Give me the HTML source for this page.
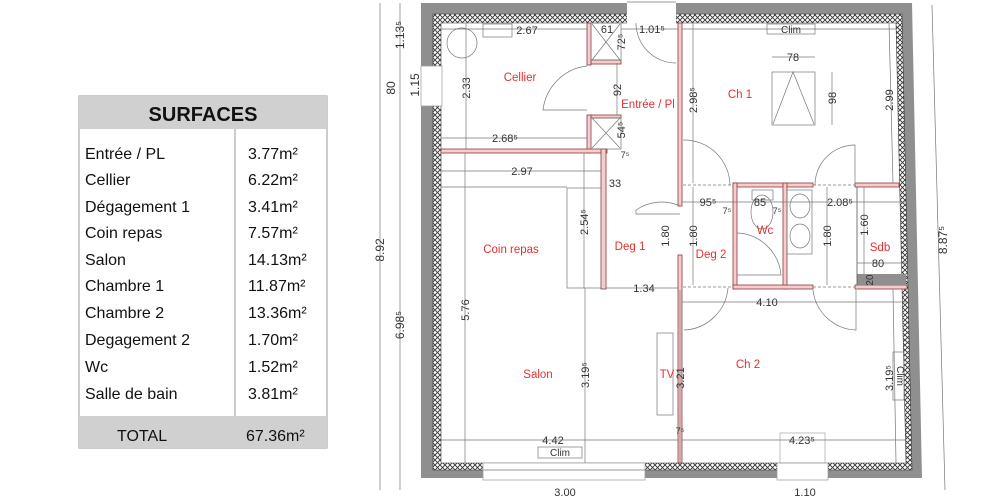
<!DOCTYPE html>
<html><head><meta charset="utf-8"><style>
html,body{margin:0;padding:0;background:#fff;width:1000px;height:500px;overflow:hidden}
svg{display:block}
.t{font-family:"Liberation Sans",sans-serif}
.d{font-family:"Liberation Sans",sans-serif;font-size:11px;fill:#333}
.r{font-family:"Liberation Sans",sans-serif;font-size:11.5px;fill:#e53030}
.w{fill:#f6cccc;stroke:#8a3a3a;stroke-width:0.8}
.l{stroke:#777;stroke-width:0.7;fill:none}
</style></head><body>
<svg width="1000" height="500" viewBox="0 0 1000 500" xmlns="http://www.w3.org/2000/svg">
<defs>
<pattern id="h" width="5" height="5" patternUnits="userSpaceOnUse">
<rect width="5" height="5" fill="#fff"/><path d="M0 0L5 5M5 0L0 5" stroke="#333" stroke-width="0.9"/>
</pattern>
</defs>
<rect x="79" y="96" width="248" height="352" fill="#fff" stroke="#999" stroke-width="1"/>
<rect x="79" y="96" width="248" height="33" fill="#d0d0d0"/>
<rect x="79" y="416" width="248" height="32" fill="#d0d0d0"/>
<line x1="235" y1="129" x2="235" y2="416" stroke="#999"/>
<text x="203" y="121" class="t" font-size="20" font-weight="bold" text-anchor="middle" fill="#111">SURFACES</text>
<g class="t" font-size="16" fill="#111">
<text x="85" y="159">Entrée / PL</text><text x="248" y="159">3.77m²</text>
<text x="85" y="185">Cellier</text><text x="248" y="185">6.22m²</text>
<text x="85" y="212">Dégagement 1</text><text x="248" y="212">3.41m²</text>
<text x="85" y="238">Coin repas</text><text x="248" y="238">7.57m²</text>
<text x="85" y="265">Salon</text><text x="248" y="265">14.13m²</text>
<text x="85" y="291">Chambre 1</text><text x="248" y="291">11.87m²</text>
<text x="85" y="318">Chambre  2</text><text x="248" y="318">13.36m²</text>
<text x="85" y="345">Degagement 2</text><text x="248" y="345">1.70m²</text>
<text x="85" y="372">Wc</text><text x="248" y="372">1.52m²</text>
<text x="85" y="399">Salle de bain</text><text x="248" y="399">3.81m²</text>
<text x="117" y="441">TOTAL</text><text x="246" y="441">67.36m²</text>
</g>
<path d="M421 3 L912 3 L922 478 L421 478 Z M433 14 L902 14 L912 470 L433 470 Z" fill="#8f8f8f" fill-rule="evenodd"/>
<path d="M433 14 L902 14 L912 470 L433 470 Z M441 23 L896 23 L906 463 L441 463 Z" fill="url(#h)" fill-rule="evenodd" stroke="#333" stroke-width="0.6"/>
<rect x="627" y="2" width="49" height="22" fill="#fff"/>
<line x1="627" y1="2" x2="676" y2="2" class="l"/>
<path d="M636 23 A40 40 0 0 0 676 63" class="l"/>
<rect x="421" y="66" width="21" height="40" fill="#fff" stroke="#999" stroke-width="0.7"/>
<rect x="483" y="463" width="162" height="17" fill="#fff" stroke="#999" stroke-width="0.7"/>
<line x1="483" y1="470" x2="645" y2="470" class="l"/>
<rect x="777" y="463" width="51" height="17" fill="#fff" stroke="#999" stroke-width="0.7"/>
<rect x="780" y="433" width="45" height="30" fill="none" stroke="#999" stroke-width="0.6"/>
<rect class="w" x="587" y="23" width="4" height="42"/>
<rect class="w" x="587" y="115" width="4" height="38"/>
<rect class="w" x="441" y="149" width="166" height="4"/>
<rect class="w" x="601" y="149" width="5" height="140"/>
<rect class="w" x="591" y="60" width="30" height="4"/>
<rect class="w" x="591" y="115" width="30" height="3"/>
<rect class="w" x="678" y="23" width="4" height="183"/>
<rect class="w" x="678" y="255" width="4" height="208"/>
<rect class="w" x="733" y="183" width="80" height="4"/>
<rect class="w" x="855" y="183" width="44" height="4"/>
<rect class="w" x="733" y="183" width="4" height="106"/>
<rect class="w" x="783" y="183" width="4" height="106"/>
<rect class="w" x="733" y="285" width="80" height="4"/>
<rect class="w" x="855" y="285" width="52" height="4"/>
<rect x="857" y="274" width="49" height="11" fill="#8f8f8f"/>
<line x1="857" y1="187" x2="857" y2="285" stroke="#555" stroke-width="0.8"/>
<g class="l"><path d="M592 24 L620 60 M620 24 L592 60 M592 118 L620 148 M620 118 L592 148"/>
<rect x="591" y="23" width="30" height="37"/>
<rect x="591" y="118" width="30" height="31"/></g>
<g class="l">
<path d="M587 66 A50 50 0 0 0 543 110 L587 110"/>
<path d="M680 206 A45 45 0 0 0 636 210 L636 214 L680 214"/>
<path d="M683 140 A46 46 0 0 1 730 185"/>
<path d="M815 185 A40 40 0 0 1 855 145 L855 185"/>
<path d="M737 233 A46 46 0 0 1 781 275 L737 275"/>
<path d="M684 330 A46 46 0 0 0 728 288"/>
<path d="M813 290 A45 45 0 0 0 856 330 L856 290"/>
<line x1="683" y1="185" x2="733" y2="185" stroke-dasharray="3 2"/>
<line x1="813" y1="185" x2="855" y2="185" stroke-dasharray="3 2"/>
<line x1="683" y1="287" x2="733" y2="287" stroke-dasharray="3 2"/>
<line x1="813" y1="287" x2="855" y2="287" stroke-dasharray="3 2"/>
</g>
<g class="l">
<circle cx="462" cy="43" r="15"/>
<rect x="483" y="24" width="29" height="13"/>
<rect x="772" y="72" width="43" height="53"/><path d="M773 124 L793 72 L814 124"/>
<rect x="567" y="188" width="34" height="100"/>
<line x1="441" y1="187" x2="567" y2="187"/>
<rect x="657" y="333" width="16" height="82"/>
<rect x="752" y="190" width="21" height="10"/>
<ellipse cx="762" cy="212" rx="11" ry="17"/>
<rect x="787" y="190" width="25" height="64"/>
<ellipse cx="800" cy="206" rx="10" ry="12"/><ellipse cx="800" cy="236" rx="10" ry="12"/>
<rect x="767" y="24" width="48" height="10"/>
<rect x="538" y="447" width="44" height="11"/>
<rect x="893" y="352" width="11" height="48"/>
</g>
<g class="l">
<line x1="380" y1="3" x2="380" y2="490"/><line x1="400" y1="3" x2="400" y2="490"/>
<line x1="932" y1="5" x2="945" y2="490"/>
<line x1="441" y1="29" x2="587" y2="29"/><line x1="621" y1="29" x2="678" y2="29"/>
<line x1="682" y1="29" x2="896" y2="29"/>
<line x1="466" y1="23" x2="466" y2="149"/><line x1="617" y1="63" x2="617" y2="115"/>
<line x1="441" y1="138" x2="587" y2="138"/>
<line x1="441" y1="171" x2="601" y2="171"/>
<line x1="584" y1="153" x2="584" y2="288"/>
<line x1="465" y1="153" x2="465" y2="463"/>
<line x1="585" y1="288" x2="585" y2="463"/>
<line x1="606" y1="288" x2="678" y2="288"/>
<line x1="441" y1="440" x2="678" y2="440"/><line x1="682" y1="440" x2="906" y2="440"/>
<line x1="682" y1="302" x2="906" y2="302"/>
<line x1="693" y1="23" x2="693" y2="183"/><line x1="693" y1="187" x2="693" y2="285"/>
<line x1="680" y1="290" x2="680" y2="463"/>
<line x1="889" y1="23" x2="893" y2="183"/>
<line x1="893" y1="289" x2="896" y2="463"/>
<line x1="682" y1="202" x2="906" y2="202"/>
<line x1="827" y1="187" x2="827" y2="285"/><line x1="864" y1="187" x2="864" y2="274"/>
<line x1="772" y1="57" x2="815" y2="57"/><line x1="832" y1="72" x2="832" y2="125"/>
<line x1="857" y1="263" x2="906" y2="263"/>
</g>
<g class="d" text-anchor="middle">
<text x="527" y="34">2.67</text><text x="607" y="33">61</text><text x="652" y="33">1.01⁵</text>
<text x="505" y="142">2.68⁵</text><text x="522" y="175">2.97</text><text x="615" y="187">33</text>
<text x="644" y="292">1.34</text><text x="553" y="444">4.42</text><text x="802" y="444">4.23⁵</text>
<text x="767" y="306">4.10</text><text x="793" y="61">78</text><text x="708" y="206">95⁵</text>
<text x="760" y="206">85</text><text x="840" y="206">2.08⁵</text><text x="878" y="267">80</text>
<text x="727" y="214" font-size="9">7⁵</text><text x="777" y="214" font-size="9">7⁵</text>
<text x="625" y="158" font-size="9">7⁵</text><text x="680" y="434" font-size="9">7⁵</text>
<text x="565" y="496">3.00</text><text x="805" y="496">1.10</text>
<text x="791" y="33" font-size="10">Clim</text><text x="560" y="456" font-size="10">Clim</text>
<text transform="translate(384,250) rotate(-90)" font-size="12">8.92</text>
<text transform="translate(404,325) rotate(-90)" font-size="12">6.98⁵</text>
<text transform="translate(404,35) rotate(-90)" font-size="12">1.13⁵</text>
<text transform="translate(395,88) rotate(-90)" font-size="12">80</text>
<text transform="translate(419,85) rotate(-90)" font-size="12">1.15</text>
<text transform="translate(947,240) rotate(-90)" font-size="12">8.87⁵</text>
<text transform="translate(470,88) rotate(-90)">2.33</text>
<text transform="translate(621,90) rotate(-90)">92</text>
<text transform="translate(625,42) rotate(-90)">72⁵</text>
<text transform="translate(625,130) rotate(-90)">54⁵</text>
<text transform="translate(588,222) rotate(-90)">2.54⁵</text>
<text transform="translate(469,310) rotate(-90)">5.76</text>
<text transform="translate(589,375) rotate(-90)">3.19⁵</text>
<text transform="translate(669,236) rotate(-90)">1.80</text>
<text transform="translate(697,236) rotate(-90)">1.80</text>
<text transform="translate(831,236) rotate(-90)">1.80</text>
<text transform="translate(868,225) rotate(-90)">1.60</text>
<text transform="translate(697,100) rotate(-90)">2.98⁵</text>
<text transform="translate(893,100) rotate(-90)">2.99</text>
<text transform="translate(836,98) rotate(-90)">98</text>
<text transform="translate(684,378) rotate(-90)">3.21</text>
<text transform="translate(893,378) rotate(-90)">3.19⁵</text>
<text transform="translate(873,280) rotate(-90)" font-size="10">20</text>
<text transform="translate(897,376) rotate(90)" font-size="10">Clim</text>
</g>
<g class="r" text-anchor="middle">
<text x="520" y="81">Cellier</text><text x="648" y="108">Entrée / Pl</text><text x="740" y="98">Ch 1</text>
<text x="511" y="253">Coin repas</text><text x="630" y="250">Deg 1</text><text x="711" y="258">Deg 2</text>
<text x="765" y="234">Wc</text><text x="880" y="251">Sdb</text><text x="538" y="378">Salon</text>
<text x="667" y="378">TV</text><text x="748" y="368">Ch 2</text>
</g>
</svg>
</body></html>
